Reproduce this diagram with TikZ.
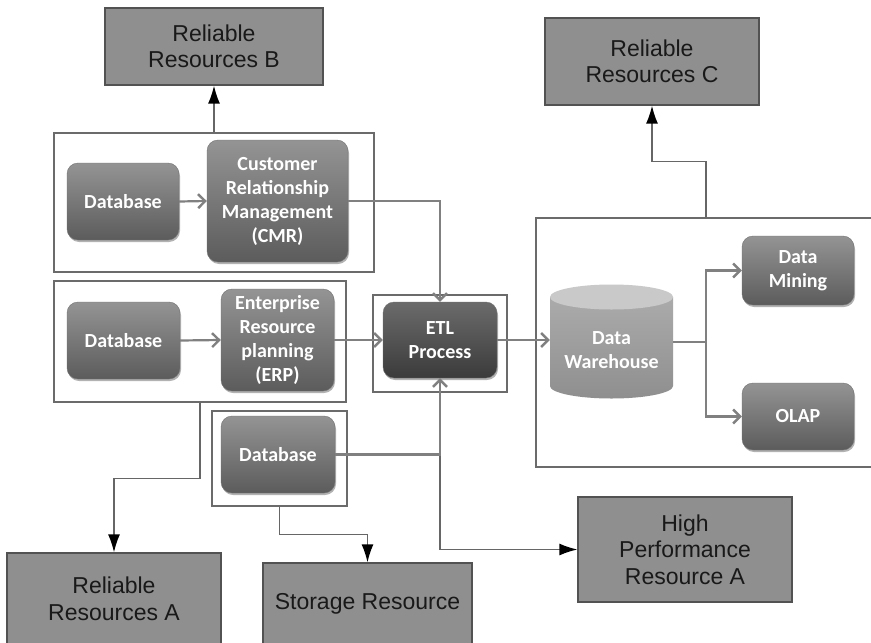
\documentclass[tikz,border=0pt]{standalone}
\usepackage{fontspec}
\setmainfont{Liberation Sans}
\newfontfamily\procfont{Carlito}
\usetikzlibrary{arrows.meta,shadows}

\begin{document}
\begin{tikzpicture}[x=1pt,y=-1pt,
  resbox/.style={draw=black!68, line width=1.3pt, fill=black!44, text=black!90,
    font=\fontsize{23}{26.5}\selectfont, align=center, inner sep=0pt},
  grp/.style={draw=black!58, line width=1.3pt, fill=white, inner sep=0pt},
  proc/.style={rounded corners=11pt, top color=black!42, bottom color=black!64,
    draw=black!55, line width=0.4pt, text=white,
    font=\procfont\bfseries\fontsize{20}{24}\selectfont, align=center, inner sep=0pt,
    drop shadow={shadow xshift=1pt, shadow yshift=-2pt, opacity=0.3, fill=black}},
  darkproc/.style={proc, top color=black!58, bottom color=black!77},
  dwlabel/.style={text=white, font=\procfont\bfseries\fontsize{20}{24}\selectfont,
    align=center, inner sep=0pt},
  inarrow/.style={draw=black!50, line width=2.2pt,
    -{Straight Barb[length=7pt,width=14pt,line width=2.4pt]}},
  outarrow/.style={draw=black!60, line width=1.4pt,
    -{Latex[length=18pt,width=12pt,color=black]}}
]
\useasboundingbox (0,0) rectangle (871,643);

% resource boxes
\node[resbox, minimum width=218, minimum height=77] (rrb) at (214,46.5) {Reliable\\Resources B};
\node[resbox, minimum width=214, minimum height=87] (rrc) at (652,61.5) {Reliable\\Resources C};
\node[resbox, minimum width=214, minimum height=92] (rra) at (114,599) {Reliable\\Resources A};
\node[resbox, minimum width=209, minimum height=82] (storage) at (367.5,604) {Storage Resource};
\node[resbox, minimum width=214, minimum height=105] (hpra) at (685,549.5) {High\\Performance\\Resource A};

% group frames
\node[grp, minimum width=320, minimum height=139] (g1) at (214,202.5) {};
\node[grp, minimum width=292, minimum height=121] (g2) at (200,341.5) {};
\node[grp, minimum width=135, minimum height=95] (g3) at (279.5,458.5) {};
\node[grp, minimum width=134, minimum height=97] (getl) at (440,343.5) {};
\node[grp, minimum width=344, minimum height=249] (gdw) at (708,342.5) {};

% process blocks
\node[proc, minimum width=112, minimum height=77] (db1) at (123,201.5) {Database};
\node[proc, minimum width=141, minimum height=122] (crm) at (277.5,201) {Customer\\Relationship\\Management\\(CMR)};
\node[proc, minimum width=113, minimum height=77] (db2) at (123.5,340.5) {Database};
\node[proc, minimum width=113, minimum height=102] (erp) at (277.5,340) {Enterprise\\Resource\\planning\\(ERP)};
\node[proc, minimum width=114, minimum height=77] (db3) at (278,454.5) {Database};
\node[darkproc, minimum width=114, minimum height=76] (etl) at (440,340) {ETL\\Process};
\node[proc, minimum width=112, minimum height=69] (dm) at (798,270.5) {Data\\Mining};
\node[proc, minimum width=112, minimum height=67] (olap) at (798,416.5) {OLAP};

% data warehouse cylinder
\shade[top color=black!33, bottom color=black!44]
  (550,297) -- (550,386) arc[start angle=180, end angle=0, x radius=61.5, y radius=12.5]
  -- (673,297) -- cycle;
\fill[black!21] (611.5,297) ellipse[x radius=61.5, y radius=12.5];
\node[dwlabel, minimum width=123, minimum height=104] (dw) at (611.5,350) {Data\\Warehouse};
\coordinate (split) at (706,342);

% links to resources
\draw[outarrow] (g1.north) -- (rrb.south);
\draw[outarrow] (split |- gdw.north) -- ++(0,-56) -| (rrc.south);
\draw[outarrow] (g2.south) -- ++(0,76) -| (rra.north);
\draw[outarrow] (g3.south) -- ++(0,28) -| (storage.north);
\draw[outarrow] (getl.south) |- (hpra.west);

% data flow
\draw[inarrow] (db1.east) -- (crm.west);
\draw[inarrow] (db2.east) -- (erp.west);
\draw[inarrow] (crm.east) -| (etl.north);
\draw[inarrow] (erp.east) -- (etl.west);
\draw[inarrow] (db3.east) -| (etl.south);
\draw[inarrow] (etl.east) -- (etl.east -| dw.west);
\draw[inarrow] (split -| dw.east) -- (split) |- (dm.west);
\draw[inarrow] (split) |- (olap.west);
\end{tikzpicture}
\end{document}
